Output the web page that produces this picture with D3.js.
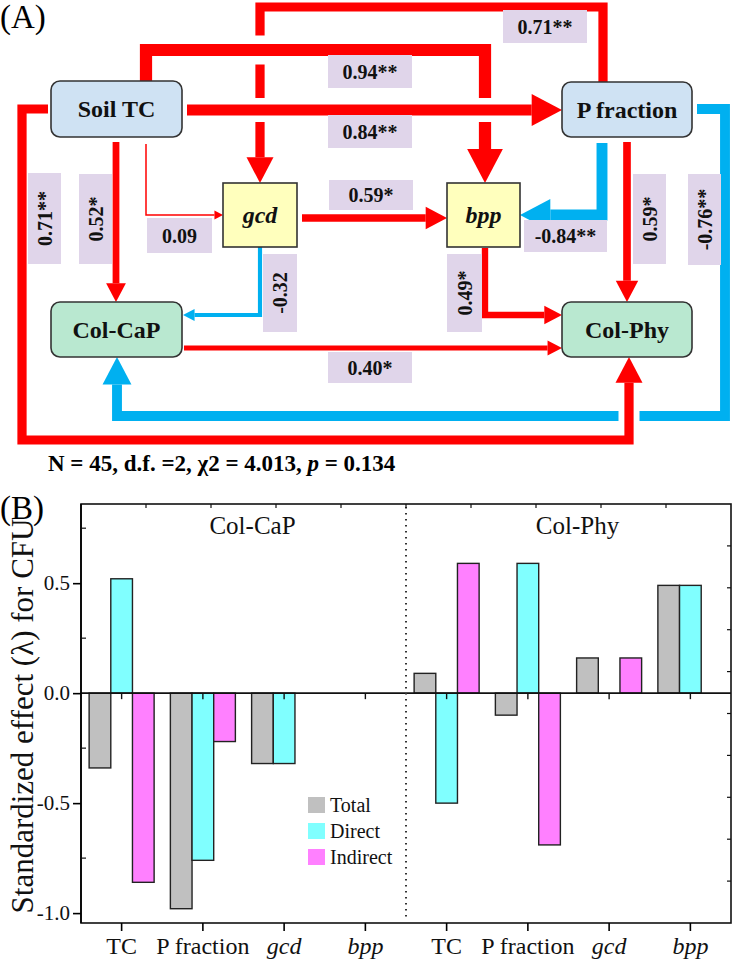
<!DOCTYPE html>
<html>
<head>
<meta charset="utf-8">
<script src="https://cdn.jsdelivr.net/npm/d3@7"></script>
<style>
  body { margin: 0; background: #fff; }
  svg { display: block; font-family: "Liberation Serif", "Times New Roman", serif; }
</style>
</head>
<body>
<svg id="fig" width="733" height="962"></svg>
<script>
// ---------- data: path model (A) ----------
const pathFrom = ["P fraction", "Soil TC", "Soil TC", "Soil TC", "Soil TC", "gcd", "P fraction",
                  "P fraction", "gcd", "bpp", "Col-CaP", "P fraction", "Soil TC"];
const pathTo   = ["gcd", "bpp", "P fraction", "gcd", "Col-CaP", "bpp", "bpp",
                  "Col-Phy", "Col-CaP", "Col-Phy", "Col-Phy", "Col-CaP", "Col-Phy"];
const pathCoef = [0.71, 0.94, 0.84, 0.09, 0.52, 0.59, -0.84, 0.59, -0.32, 0.49, 0.40, -0.76, 0.71];
const pathSig  = ["**", "**", "**", "", "*", "*", "**", "*", "", "*", "*", "**", "**"];
const fitText  = ["N = 45, d.f. =2, χ2 = 4.013, ", "p", " = 0.134"];

// ---------- data: standardized effects (B) ----------
const causes = ["TC", "P fraction", "gcd", "bpp"];
const responses = ["Col-CaP", "Col-Phy"];
const effectTypes = ["Total", "Direct", "Indirect"];
const capTotal    = [-0.34, -0.98, -0.32, 0];
const capDirect   = [0.52, -0.76, -0.32, 0];
const capIndirect = [-0.86, -0.22, 0, 0];
const phyTotal    = [0.09, -0.10, 0.16, 0.49];
const phyDirect   = [-0.50, 0.59, 0, 0.49];
const phyIndirect = [0.59, -0.69, 0.16, 0];
const yTicks = [-1.0, -0.5, 0.0, 0.5];
const yMinor = [-0.75, -0.25, 0.25, 0.75];

const svg = d3.select("#fig");
const RED = "#ff0000", BLUE = "#00b0f0", LABEL = "#e0d5ea";

// ---------- layout of panel A ----------
const boxes = {
  "Soil TC":    {x: 51,  y: 81,  w: 131, h: 56, fill: "#cfe2f3", r: 9, it: false},
  "P fraction": {x: 562, y: 82,  w: 130, h: 55, fill: "#cfe2f3", r: 9, it: false},
  "gcd":        {x: 223, y: 183, w: 74,  h: 64, fill: "#ffffbd", r: 0, it: true},
  "bpp":        {x: 447, y: 183, w: 73,  h: 64, fill: "#ffffbd", r: 0, it: true},
  "Col-CaP":    {x: 51,  y: 302, w: 131, h: 55, fill: "#b9e8d0", r: 9, it: false},
  "Col-Phy":    {x: 562, y: 302, w: 130, h: 55, fill: "#b9e8d0", r: 9, it: false}
};
// route waypoints and label boxes, same order as the data arrays
const routes = [
  {pts: [[603, 82], [603, 7], [260, 7], [260, 183]], lab: [503, 10, 84, 33]},
  {pts: [[146, 81], [146, 50], [485, 50], [485, 183]], lab: [328, 55, 84, 33], casing: 29},
  {pts: [[187, 110], [562, 110]], lab: [328, 115, 84, 33], casing: 24},
  {pts: [[146, 144], [146, 215], [223, 215]], lab: [147, 218, 65, 35]},
  {pts: [[116, 142], [116, 302]], lab: [79, 174, 33, 90], rot: true},
  {pts: [[302, 218], [447, 218]], lab: [329, 180, 84, 30]},
  {pts: [[602, 143], [602, 215], [520, 215]], lab: [524, 220, 83, 32]},
  {pts: [[627, 142], [627, 302]], lab: [633, 174, 33, 90], rot: true},
  {pts: [[260, 247], [260, 315], [183, 315]], lab: [263, 254, 34, 78], rot: true},
  {pts: [[485, 248], [485, 315], [562, 315]], lab: [447, 254, 35, 78], rot: true},
  {pts: [[184, 348], [562, 348]], lab: [328, 352, 84, 31]},
  {pts: [[697, 109], [725, 109], [725, 416], [117, 416], [117, 357]], lab: [688, 174, 33, 91], rot: true},
  {pts: [[48, 109], [22, 109], [22, 440], [629, 440], [629, 357]], lab: [28, 173, 33, 91], rot: true, casing: 21}
];

const widthScale = d3.scaleLinear().domain([0, 1]).range([0, 13]);
const headScale = d3.scaleLinear().domain([0, 1]).range([0, 38]);
const line = d3.line();

const gA = svg.append("g");
const gLines = gA.append("g");

pathCoef.forEach((c, i) => {
  const r = routes[i];
  const sw = Math.max(1.5, widthScale(Math.abs(c)));
  const hw = Math.max(9, headScale(Math.abs(c)));
  const hl = hw * 0.95;
  const pts = r.pts.map(p => p.slice());
  const tip = pts[pts.length - 1];
  const prev = pts[pts.length - 2];
  const dx = tip[0] - prev[0], dy = tip[1] - prev[1];
  const len = Math.hypot(dx, dy);
  const ux = dx / len, uy = dy / len;
  const base = [tip[0] - ux * hl, tip[1] - uy * hl];
  pts[pts.length - 1] = base;
  const col = c < 0 ? BLUE : RED;
  if (r.casing) {
    gLines.append("path").attr("d", line(pts)).attr("fill", "none")
      .attr("stroke", "#fff").attr("stroke-width", r.casing).attr("stroke-linejoin", "miter");
  }
  gLines.append("path").attr("d", line(pts)).attr("fill", "none")
    .attr("stroke", col).attr("stroke-width", sw).attr("stroke-linejoin", "miter");
  const px = -uy, py = ux;
  gLines.append("path")
    .attr("d", "M" + tip + "L" + [base[0] + px * hw / 2, base[1] + py * hw / 2] +
               "L" + [base[0] - px * hw / 2, base[1] - py * hw / 2] + "Z")
    .attr("fill", col);
});

// nodes
Object.entries(boxes).forEach(([name, b]) => {
  gA.append("rect").attr("x", b.x).attr("y", b.y).attr("width", b.w).attr("height", b.h)
    .attr("rx", b.r).attr("fill", b.fill).attr("stroke", "#333").attr("stroke-width", 1.6);
  gA.append("text").attr("x", b.x + b.w / 2).attr("y", b.y + b.h / 2 + 8)
    .attr("text-anchor", "middle").attr("font-size", 24).attr("font-weight", "bold")
    .attr("font-style", b.it ? "italic" : "normal").attr("fill", "#111").text(name);
});

// coefficient labels
pathCoef.forEach((c, i) => {
  const [x, y, w, h] = routes[i].lab;
  gA.append("rect").attr("x", x).attr("y", y).attr("width", w).attr("height", h).attr("fill", LABEL);
  const t = gA.append("text").attr("text-anchor", "middle").attr("font-size", 20)
    .attr("font-weight", "bold").attr("fill", "#111")
    .text(c.toFixed(2) + pathSig[i]);
  if (routes[i].rot) {
    t.attr("transform", `translate(${x + w / 2 + 7},${y + h / 2}) rotate(-90)`);
  } else {
    t.attr("x", x + w / 2).attr("y", y + h / 2 + 7);
  }
});

svg.append("text").attr("x", 0).attr("y", 28).attr("font-size", 33).text("(A)");

const fit = svg.append("text").attr("x", 48).attr("y", 471).attr("font-size", 23).attr("font-weight", "bold");
fitText.forEach((s, i) => fit.append("tspan").attr("font-style", i === 1 ? "italic" : "normal").text(s));

// ---------- panel B ----------
svg.append("text").attr("x", 0).attr("y", 519).attr("font-size", 33).text("(B)");

const pLeft = 81, pRight = 731, pTop = 504, pBottom = 923;
const rows = [];
const series = [[capTotal, capDirect, capIndirect], [phyTotal, phyDirect, phyIndirect]];
responses.forEach((resp, gi) => {
  causes.forEach((cause, ci) => {
    effectTypes.forEach((t, ti) => {
      rows.push({slot: gi * causes.length + ci, type: t, value: series[gi][ti][ci]});
    });
  });
});

const slots = d3.range(responses.length * causes.length);
const x = d3.scaleBand().domain(slots).range([pLeft, pRight]).padding(0);
const xSub = d3.scaleBand().domain(effectTypes).range([-32.5, 32.5]);
const y = d3.scaleLinear().domain([-1.045, 0.86]).range([pBottom, pTop]);
const color = d3.scaleOrdinal().domain(effectTypes).range(["#c0c0c0", "#80ffff", "#ff80ff"]);
const cx = s => x(s) + x.bandwidth() / 2;

const gB = svg.append("g");

// bars
gB.selectAll("rect.bar").data(rows.filter(d => d.value !== 0)).join("rect")
  .attr("class", "bar")
  .attr("x", d => cx(d.slot) + xSub(d.type))
  .attr("width", xSub.bandwidth())
  .attr("y", d => y(Math.max(0, d.value)))
  .attr("height", d => Math.abs(y(d.value) - y(0)))
  .attr("fill", d => color(d.type))
  .attr("stroke", "#222").attr("stroke-width", 1.4);

// zero line with small ticks
gB.append("line").attr("x1", pLeft).attr("x2", pRight).attr("y1", y(0)).attr("y2", y(0))
  .attr("stroke", "#111").attr("stroke-width", 1.6);
gB.selectAll("line.zt").data(slots).join("line").attr("class", "zt")
  .attr("x1", cx).attr("x2", cx).attr("y1", y(0)).attr("y2", y(0) + 6)
  .attr("stroke", "#111").attr("stroke-width", 1.4);

// separator
const sepX = x(causes.length);
gB.append("line").attr("x1", sepX).attr("x2", sepX).attr("y1", pTop + 3).attr("y2", pBottom - 5)
  .attr("stroke", "#333").attr("stroke-width", 2).attr("stroke-dasharray", "1.5,4.5");

// frame
gB.append("rect").attr("x", pLeft).attr("y", pTop).attr("width", pRight - pLeft).attr("height", pBottom - pTop)
  .attr("fill", "none").attr("stroke", "#111").attr("stroke-width", 1.6);

// top / right small inner ticks
const tenX = d3.scaleLinear().domain([0, 10]).range([pLeft, pRight]);
const tenY = d3.scaleLinear().domain([0, 10]).range([pBottom, pTop]);
gB.selectAll("line.tt").data(d3.range(1, 10)).join("line").attr("class", "tt")
  .attr("x1", tenX).attr("x2", tenX).attr("y1", pTop).attr("y2", pTop + 4)
  .attr("stroke", "#111").attr("stroke-width", 1.2);
gB.selectAll("line.rt").data(d3.range(1, 10)).join("line").attr("class", "rt")
  .attr("x1", pRight).attr("x2", pRight - 4).attr("y1", tenY).attr("y2", tenY)
  .attr("stroke", "#111").attr("stroke-width", 1.2);

// y axis
const yAxis = gB.append("g").attr("transform", `translate(${pLeft},0)`)
  .call(d3.axisLeft(y).tickValues(yTicks).tickSize(8).tickPadding(3).tickFormat(d => d.toFixed(1)));
yAxis.select(".domain").attr("stroke-width", 1.6).attr("d", `M0,${pTop}V${pBottom}`);
yAxis.selectAll(".tick line").attr("stroke-width", 1.6);
yAxis.selectAll("text").attr("font-size", 21).attr("font-family", "Liberation Serif").attr("fill", "#111");
gB.selectAll("line.ym").data(yMinor).join("line").attr("class", "ym")
  .attr("x1", pLeft).attr("x2", pLeft + 5).attr("y1", d => y(d)).attr("y2", d => y(d))
  .attr("stroke", "#111").attr("stroke-width", 1.2);

// x axis
const xAxis = gB.append("g").attr("transform", `translate(0,${pBottom})`)
  .call(d3.axisBottom(x).tickSize(8).tickPadding(6).tickFormat(s => causes[s % causes.length]));
xAxis.select(".domain").remove();
xAxis.selectAll(".tick line").attr("stroke-width", 1.6);
xAxis.selectAll("text").attr("font-size", 24).attr("font-family", "Liberation Serif").attr("fill", "#111")
  .attr("font-style", s => (s % causes.length) >= 2 ? "italic" : "normal");

// group titles
responses.forEach((r, gi) => {
  const x0 = x(gi * causes.length), x1 = x(gi * causes.length + causes.length - 1) + x.bandwidth();
  gB.append("text").attr("x", (x0 + x1) / 2 + 9).attr("y", 534).attr("text-anchor", "middle")
    .attr("font-size", 25).attr("fill", "#111").text(r);
});

// legend
effectTypes.forEach((t, i) => {
  const ly = 797 + i * 26;
  gB.append("rect").attr("x", 308).attr("y", ly).attr("width", 17).attr("height", 16).attr("fill", color(t));
  gB.append("text").attr("x", 330).attr("y", ly + 15).attr("font-size", 20).attr("fill", "#111").text(t);
});

// y label
gB.append("text").attr("transform", "translate(33,716) rotate(-90)").attr("text-anchor", "middle")
  .attr("font-size", 31).attr("fill", "#111").text("Standardized effect (λ) for CFU");
</script>
</body>
</html>
